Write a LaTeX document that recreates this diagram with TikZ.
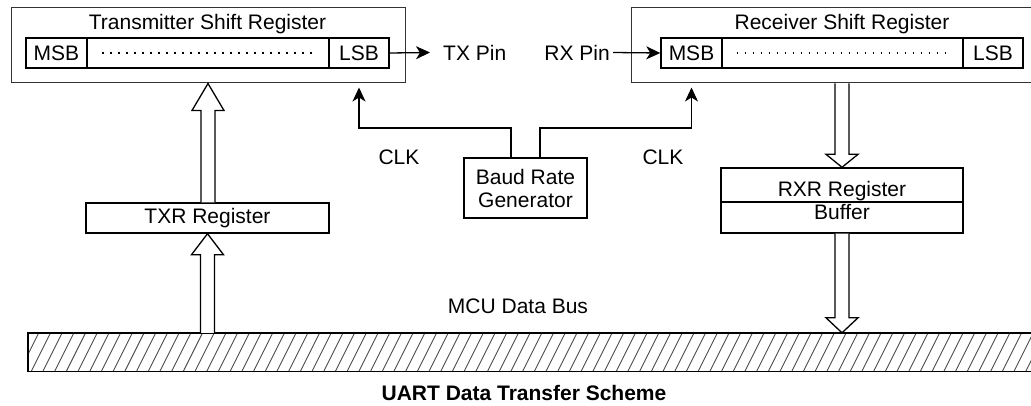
\documentclass[tikz,border=0pt]{standalone}
\usepackage{fontspec}
\setmainfont{Liberation Sans}
\usetikzlibrary{calc,arrows.meta}

\tikzset{
  outerbox/.style={draw=black!80, line width=1pt, inner sep=0pt},
  cell/.style={draw, line width=1.4pt, minimum height=30pt, inner sep=0pt},
  regbox/.style={draw, line width=1.4pt, inner sep=0pt, align=center},
  dotrow/.style={line width=1.3pt, dash pattern=on 1.3pt off 6.7pt},
  sig/.style={line width=1.3pt, -{Stealth[length=14pt, width=13pt, inset=4pt]}},
  hatch/.style={black!70, line width=0.9pt}
}

% hollow bus arrow: tail, tip, head length
\newcommand{\fatarrow}[3]{%
  \draw[line width=1.3pt, fill=white] let \p1=(#1), \p2=(#2),
    \n1={#3*(\y1-\y2)/abs(\y1-\y2)} in
    ({\x2-7pt},\y1) -- ({\x2-7pt},{\y2+\n1}) -- ({\x2-16pt},{\y2+\n1}) -- (\x2,\y2)
    -- ({\x2+16pt},{\y2+\n1}) -- ({\x2+7pt},{\y2+\n1}) -- ({\x2+7pt},\y1);}

\begin{document}
\begin{tikzpicture}[x=1pt, y=-1pt, font=\fontsize{21}{23}\selectfont]
  \clip (0,0) rectangle (1031,406);

  % transmitter shift register
  \node[outerbox, minimum width=394pt, minimum height=75pt] (txsr) at (208,45.5) {};
  \node (txsrtitle) at (207.5,24.5) {Transmitter Shift Register};
  \node[cell, minimum width=61pt] (txmsb) at (56.5,53) {MSB};
  \node[cell, minimum width=242pt] (txmid) at (208,53) {};
  \node[cell, minimum width=60pt] (txlsb) at (359,53) {LSB};
  \draw[dotrow] ([xshift=16pt]txmid.west) -- ([xshift=-16pt]txmid.east);
  \node[anchor=west, inner sep=0pt, inner xsep=13pt] (txpin) at (430,52.5) {TX Pin};
  \draw[sig] (txlsb.east) -- (txpin.west);

  % receiver shift register
  \node[outerbox, minimum width=414pt, minimum height=75pt] (rxsr) at (838,45.5) {};
  \node (rxsrtitle) at (842,24.5) {Receiver Shift Register};
  \node[cell, minimum width=61pt] (rxmsb) at (691.5,53) {MSB};
  \node[cell, minimum width=241pt] (rxmid) at (842.5,53) {};
  \node[cell, minimum width=60pt] (rxlsb) at (993,53) {LSB};
  \draw[dotrow] ([xshift=15.5pt]rxmid.west) -- ([xshift=-15.5pt]rxmid.east);
  \node[anchor=east, inner sep=0pt, inner xsep=3pt] (rxpin) at (613,52.5) {RX Pin};
  \draw[sig] (rxpin.east) -- (rxmsb.west);

  % baud rate generator and clocks
  \node[regbox, minimum width=123pt, minimum height=60pt] (baud) at (525.5,188) {Baud Rate\\Generator};
  \coordinate (clkbend) at (0,128);
  \draw[sig, shorten >=4pt] ([xshift=-14.5pt]baud.north) |- (clkbend -| txlsb) -- (txlsb |- txsr.south);
  \draw[sig, shorten >=4pt] ([xshift=14.5pt]baud.north) |- (clkbend -| rxmsb) -- (rxmsb |- rxsr.south);
  \node (clkl) at (399,157) {CLK};
  \node (clkr) at (663,157) {CLK};

  % holding registers
  \node[regbox, minimum width=243pt, minimum height=30pt] (txr) at (207.5,218) {TXR Register};
  \node[regbox, minimum width=242pt, minimum height=65pt] (rxr) at (842,200.5) {RXR Register\\Buffer};
  \coordinate (rxrsplit) at (0,202);
  \draw[line width=1.4pt] (rxr.west |- rxrsplit) -- (rxr.east |- rxrsplit);

  % data bus
  \node[inner sep=0pt, minimum width=1017pt, minimum height=38pt] (bus) at (536.5,352) {};
  \begin{scope}
    \clip (bus.south west) rectangle (bus.north east);
    \foreach \i in {0,...,89}
      \draw[hatch] (8+\i*11.7,371) -- ++(19,-38);
  \end{scope}
  \draw[line width=1.4pt] (bus.south west) rectangle (bus.north east);
  \node (busname) at (518,306) {MCU Data Bus};

  % bus arrows
  \fatarrow{txr.north}{txsr.south}{27}
  \fatarrow{txr.south |- bus.north}{txr.south}{21}
  \fatarrow{rxr.north |- rxsr.south}{rxr.north}{13}
  \fatarrow{rxr.south}{rxr.south |- bus.north}{15}

  \node[font=\fontsize{21}{23}\selectfont\bfseries] (caption) at (524,393) {UART Data Transfer Scheme};
\end{tikzpicture}
\end{document}
